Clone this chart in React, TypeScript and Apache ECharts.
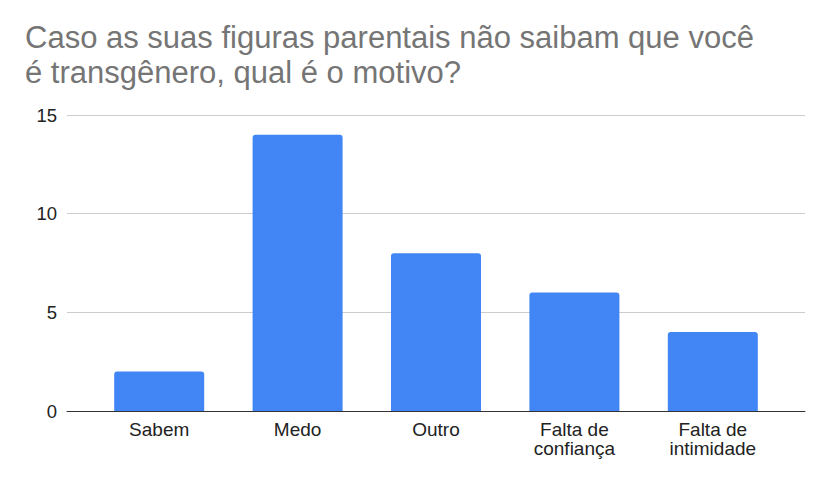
import React, { useEffect, useRef } from "react";
import * as echarts from "echarts";

const categories = ["Sabem", "Medo", "Outro", "Falta de\nconfiança", "Falta de\nintimidade"];
const values = [2, 14, 8, 6, 4];
const titleLines = ["Caso as suas figuras parentais não saibam que você", "é transgênero, qual é o motivo?"];
const yMin = 0;
const yMax = 15;
const yStep = 5;

export default function App() {
  const ref = useRef<HTMLDivElement>(null);
  useEffect(() => {
    if (!ref.current) return;
    const chart = echarts.init(ref.current, null, { renderer: "svg" });
    const labelFont = "Arial, 'Liberation Sans', sans-serif";
    const titleStyle = {
      fontFamily: labelFont,
      fontWeight: "normal",
      fontSize: 31,
      color: "#757575",
      lineHeight: 31,
    };
    chart.setOption({
      animation: false,
      backgroundColor: "#ffffff",
      title: titleLines.map((t, i) => ({
        text: t,
        left: 20,
        top: 17 + i * 35,
        padding: [5, 5, 0, 5],
        textStyle: titleStyle,
      })),
      grid: [
        { left: 67, right: 25, top: 115, bottom: 74 },
        { left: 90, right: 48, top: 115, bottom: 74 },
      ],
      xAxis: [
        {
          type: "value",
          gridIndex: 0,
          min: 0,
          max: 1,
          axisTick: { show: false },
          axisLabel: { show: false },
          splitLine: { show: false },
          axisLine: { show: true, lineStyle: { color: "#333333", width: 1 } },
          z: 5,
        },
        {
          type: "category",
          gridIndex: 1,
          data: categories,
          axisTick: { show: false },
          axisLine: { show: false },
          axisLabel: {
            color: "#222222",
            fontFamily: labelFont,
            fontSize: 19,
            lineHeight: 19,
            margin: 9,
            interval: 0,
          },
        },
      ],
      yAxis: [
        {
          type: "value",
          gridIndex: 0,
          min: yMin,
          max: yMax,
          interval: yStep,
          axisLine: { show: false },
          axisTick: { show: false },
          splitLine: { lineStyle: { color: "#cccccc", width: 1 } },
          axisLabel: {
            color: "#222222",
            fontFamily: labelFont,
            fontSize: 18.5,
            margin: 10,
          },
        },
        {
          type: "value",
          gridIndex: 1,
          min: yMin,
          max: yMax,
          interval: yStep,
          show: false,
          splitLine: { show: false },
        },
      ],
      series: [
        {
          type: "bar",
          xAxisIndex: 1,
          yAxisIndex: 1,
          data: values,
          barWidth: 90,
          z: 3,
          itemStyle: { color: "#4285f4", borderRadius: [3, 3, 0, 0] },
        },
      ],
    });
    return () => chart.dispose();
  }, []);
  return <div ref={ref} style={{ width: 830, height: 485, position: "absolute", left: 0, top: 0 }} />;
}
